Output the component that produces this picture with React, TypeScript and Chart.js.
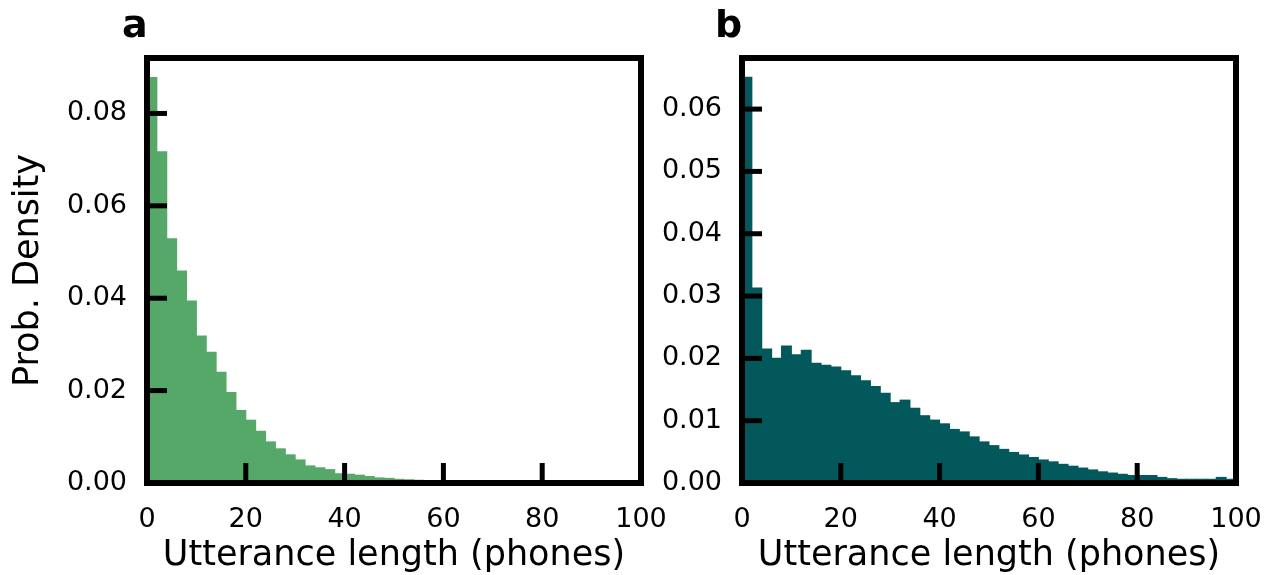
import { useEffect, useRef } from 'react';
import { Chart, registerables } from 'chart.js';

Chart.register(...registerables);

const FONT = "'DejaVu Sans', 'Liberation Sans', sans-serif";

// Histogram bin centres (bin width 2 phones)
const binCenters = [
  1, 3, 5, 7, 9, 11, 13, 15, 17, 19,
  21, 23, 25, 27, 29, 31, 33, 35, 37, 39,
  41, 43, 45, 47, 49, 51, 53, 55, 57, 59,
  61, 63, 65, 67, 69, 71, 73, 75, 77, 79,
  81, 83, 85, 87, 89, 91, 93, 95, 97, 99,
];

// Panel a: probability density
const densityA = [
  0.0878, 0.0717, 0.0529, 0.0459, 0.0394, 0.0318, 0.0283, 0.024, 0.0196, 0.0157,
  0.0136, 0.0112, 0.0089, 0.0074, 0.0061, 0.005, 0.0037, 0.0033, 0.0029, 0.002,
  0.0019, 0.0017, 0.0014, 0.0011, 0.001, 0.0008, 0.0007, 0.0006, 0.0005, 0.0004,
  0.0004, 0.0003, 0.0003, 0.0002, 0.0002, 0.0002, 0.0001, 0.0001, 0.0001, 0.0001,
  0.0001, 0.0001, 0.0001, 0.00005, 0.00005, 0.00005, 0.00005, 0.00005, 0.00005, 0.00005,
];

// Panel b: probability density
const densityB = [
  0.0651, 0.0313, 0.0215, 0.02, 0.022, 0.0206, 0.0213, 0.0192, 0.0189, 0.0186,
  0.018, 0.0172, 0.0164, 0.0155, 0.0144, 0.0129, 0.0133, 0.012, 0.0108, 0.0101,
  0.0095, 0.0086, 0.0082, 0.0074, 0.0066, 0.006, 0.0054, 0.0049, 0.0045, 0.0041,
  0.0037, 0.0034, 0.003, 0.0027, 0.0024, 0.0021, 0.0018, 0.0016, 0.0014, 0.0012,
  0.0012, 0.0012, 0.0009, 0.0007, 0.0006, 0.0006, 0.0006, 0.0006, 0.0009, 0.0006,
];

const xTickValues = [0, 20, 40, 60, 80, 100];
const yTickValuesA = [0, 0.02, 0.04, 0.06, 0.08];
const yTickValuesB = [0, 0.01, 0.02, 0.03, 0.04, 0.05, 0.06];

const xLabel = 'Utterance length (phones)';
const yLabel = 'Prob. Density';

const framePlugin = {
  id: 'frame',
  afterDatasetsDraw(chart: any, _args: any, opts: any) {
    const { ctx, chartArea } = chart;
    const { left, right, top, bottom } = chartArea;
    const xs = chart.scales.x;
    const ys = chart.scales.y;
    ctx.save();
    ctx.strokeStyle = '#000';
    ctx.lineCap = 'butt';
    ctx.lineWidth = 5;
    xs.ticks.forEach((t: any) => {
      const px = xs.getPixelForValue(t.value);
      ctx.beginPath();
      ctx.moveTo(px, bottom);
      ctx.lineTo(px, bottom - 20);
      ctx.stroke();
    });
    ys.ticks.forEach((t: any) => {
      const py = ys.getPixelForValue(t.value);
      ctx.beginPath();
      ctx.moveTo(left, py);
      ctx.lineTo(left + 20, py);
      ctx.stroke();
    });
    ctx.lineWidth = 6;
    ctx.lineJoin = 'miter';
    ctx.strokeRect(left, top, right - left, bottom - top);
    ctx.fillStyle = '#000';
    ctx.font = `bold 38px ${FONT}`;
    ctx.textAlign = 'left';
    ctx.textBaseline = 'alphabetic';
    ctx.fillText(opts.letter, left + opts.letterDx, opts.letterY);
    ctx.restore();
  },
};

type PanelProps = {
  values: number[];
  color: string;
  yTicks: number[];
  yMax: number;
  letter: string;
  letterDx: number;
  showYTitle: boolean;
  canvasLeft: number;
  canvasWidth: number;
  yAxisWidth: number;
  padRight: number;
  yTickPad: number;
};

function Panel(p: PanelProps) {
  const ref = useRef<HTMLCanvasElement | null>(null);
  useEffect(() => {
    if (!ref.current) return;
    const chart = new Chart(ref.current, {
      type: 'bar',
      data: {
        datasets: [
          {
            data: binCenters.map((x, i) => ({ x, y: p.values[i] })),
            backgroundColor: p.color,
            borderWidth: 0,
            barPercentage: 1,
            categoryPercentage: 1,
            inflateAmount: 0.5,
          } as any,
        ],
      },
      options: {
        animation: false,
        responsive: false,
        maintainAspectRatio: false,
        events: [],
        layout: { padding: { left: 0, right: p.padRight, top: 58, bottom: 0 } },
        plugins: {
          legend: { display: false },
          tooltip: { enabled: false },
          frame: { letter: p.letter, letterDx: p.letterDx, letterY: 37 },
        } as any,
        scales: {
          x: {
            type: 'linear',
            min: 0,
            max: 100,
            offset: false,
            grid: { display: false, drawTicks: false },
            border: { display: false },
            afterBuildTicks: (s: any) => {
              s.ticks = xTickValues.map((v) => ({ value: v }));
            },
            afterFit: (s: any) => {
              s.height = 92;
              s.paddingLeft = 0;
              s.paddingRight = 0;
            },
            ticks: {
              font: { family: FONT, size: 27 },
              color: '#000',
              padding: 21,
              maxRotation: 0,
              autoSkip: false,
              callback: (v: any) => String(v),
            },
            title: {
              display: true,
              text: xLabel,
              font: { family: FONT, size: 35, lineHeight: 1.1 },
              color: '#000',
              padding: { top: 0, bottom: 0 },
            },
          },
          y: {
            type: 'linear',
            min: 0,
            max: p.yMax,
            grid: { display: false, drawTicks: false },
            border: { display: false },
            afterBuildTicks: (s: any) => {
              s.ticks = p.yTicks.map((v) => ({ value: v }));
            },
            afterFit: (s: any) => {
              s.width = p.yAxisWidth;
            },
            ticks: {
              font: { family: FONT, size: 27 },
              color: '#000',
              padding: p.yTickPad,
              autoSkip: false,
              includeBounds: false,
              callback: (v: any) => Number(v).toFixed(2),
            },
            title: {
              display: p.showYTitle,
              text: yLabel,
              font: { family: FONT, size: 35, lineHeight: 1.1 },
              color: '#000',
              padding: { top: 10, bottom: 0 },
            },
          },
        },
      },
      plugins: [framePlugin as any],
    });
    return () => chart.destroy();
  }, []);
  return (
    <canvas
      ref={ref}
      width={p.canvasWidth}
      height={575}
      style={{
        position: 'absolute',
        left: p.canvasLeft,
        top: 0,
        width: p.canvasWidth,
        height: 575,
      }}
    />
  );
}

export default function App() {
  return (
    <div
      style={{
        position: 'absolute',
        left: 0,
        top: 0,
        width: 1273,
        height: 575,
        background: '#fff',
      }}
    >
      <Panel
        values={densityA}
        color="#55a868"
        yTicks={yTickValuesA}
        yMax={0.092}
        letter="a"
        letterDx={-25}
        showYTitle={true}
        canvasLeft={0}
        canvasWidth={670}
        yAxisWidth={147}
        padRight={29}
        yTickPad={20}
      />
      <Panel
        values={densityB}
        color="#03585b"
        yTicks={yTickValuesB}
        yMax={0.0682}
        letter="b"
        letterDx={-27}
        showYTitle={false}
        canvasLeft={640}
        canvasWidth={633}
        yAxisWidth={102}
        padRight={37}
        yTickPad={20}
      />
    </div>
  );
}
